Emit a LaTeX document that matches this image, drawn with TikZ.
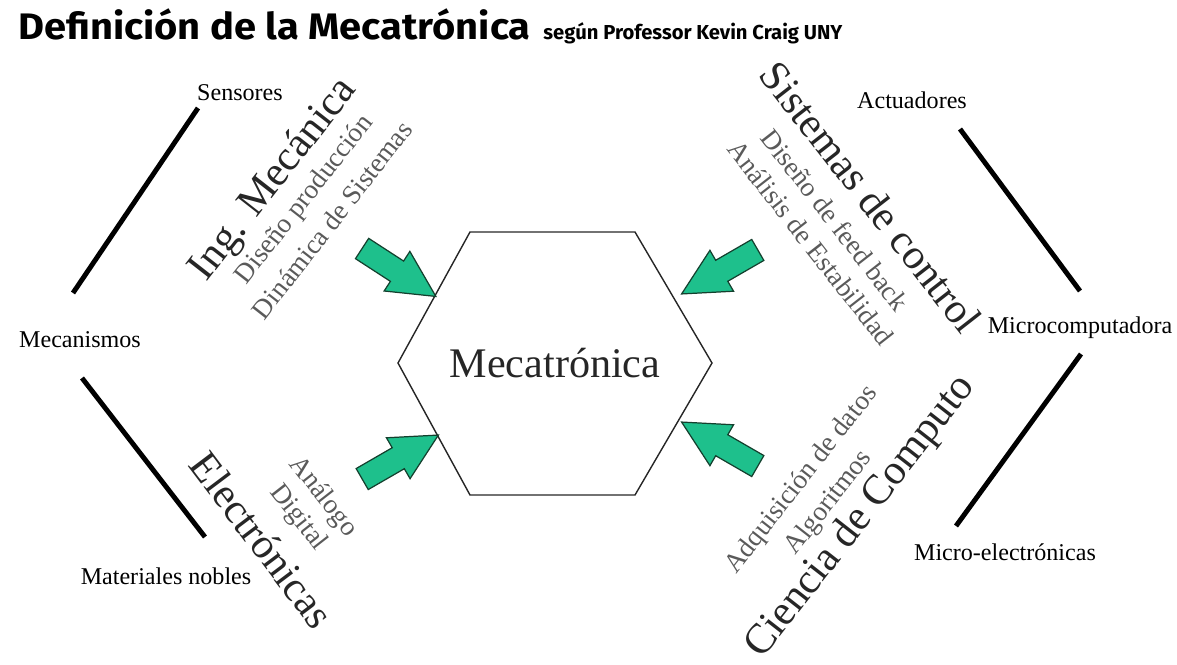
\documentclass[tikz,border=0pt]{standalone}
\usepackage{fontspec}
\setmainfont{Liberation Serif}
\newfontfamily\titulofont[FakeStretch=1.08]{Fira Sans}
\newfontfamily\subtitulofont{Fira Sans}
\usetikzlibrary{shapes.arrows}
\definecolor{verde}{RGB}{30,192,140}
\definecolor{verdeborde}{RGB}{20,64,46}
\definecolor{grisoscuro}{RGB}{38,38,38}
\definecolor{gristema}{RGB}{90,90,90}
\begin{document}
\begin{tikzpicture}[x=0.02cm, y=0.02cm,
    etiqueta/.style={font=\fontsize{13.7}{16}\selectfont, inner sep=0pt},
    area/.style={font=\fontsize{24}{28}\selectfont, text=grisoscuro, inner sep=0pt},
    tema/.style={font=\fontsize{15.5}{18}\selectfont, text=gristema, inner sep=0pt},
    borde/.style={line width=2.8pt},
    flecha/.style={single arrow, draw=verdeborde, fill=verde, line width=0.7pt,
        inner sep=0pt, inner ysep=0.23cm, minimum height=1.76cm,
        single arrow head extend=0.23cm, single arrow tip angle=54}]

    \useasboundingbox (0,0) rectangle (1177,664);

    % titulo
    \node[anchor=base west, inner sep=0pt, font=\titulofont\bfseries\fontsize{21}{24}\selectfont] (titulo) at (18,624) {Definición de la Mecatrónica};
    \node[anchor=base west, inner sep=0pt, font=\subtitulofont\bfseries\fontsize{11.5}{13}\selectfont] (subtitulo) at ([xshift=0.24cm]titulo.base east) {según Professor Kevin Craig UNY};

    % hexagono central
    \node[font=\fontsize{24}{28}\selectfont, text=grisoscuro] (hexa) at (555,301) {Mecatrónica};
    \draw[grisoscuro, line width=0.8pt] (398,301) -- (470,432) -- (635,432) -- (712,301) -- (635,169) -- (470,169) -- cycle;

    % etiquetas exteriores
    \node[etiqueta] (sens) at (240,571) {Sensores};
    \node[etiqueta] (meca) at (80,324) {Mecanismos};
    \node[etiqueta] (mat) at (166,88) {Materiales nobles};
    \node[etiqueta] (act) at (912,564) {Actuadores};
    \node[etiqueta] (micro) at (1080,336) {Microcomputadora};
    \node[etiqueta] (microel) at (1005,112) {Micro-electrónicas};

    \coordinate (l1a) at (198,556);
    \coordinate (l1b) at (73,371);
    \coordinate (l2a) at (82,286);
    \coordinate (l2b) at (205,127);
    \coordinate (r1a) at (960,535);
    \coordinate (r1b) at (1080,373);
    \coordinate (r2a) at (1081,310);
    \coordinate (r2b) at (956,138);

    \draw[borde] (l1a) -- (l1b);
    \draw[borde] (l2a) -- (l2b);
    \draw[borde] (r1a) -- (r1b);
    \draw[borde] (r2a) -- (r2b);

    % areas
    \node[area, rotate=52] (ing) at (274,484) {Ing. Mecánica};
    \node[tema, rotate=52] (disprod) at (305,464) {Diseño producción};
    \node[tema, rotate=52] (dinsis) at (332,444) {Dinámica de Sistemas};

    \node[area, rotate=-52] (sist) at (871,467) {Sistemas de control};
    \node[tema, rotate=-52] (disfeed) at (835,444) {Diseño de feed back};
    \node[tema, rotate=-52] (anal) at (811,421) {Análisis de Estabilidad};

    \node[area, rotate=-53] (elec) at (262,124) {Electrónicas};
    \node[tema, rotate=-52] (digital) at (298,146) {Digital};
    \node[tema, rotate=-52] (analogo) at (323,167) {Análogo};

    \node[area, rotate=52] (cien) at (861,147) {Ciencia de Computo};
    \node[tema, rotate=52] (algo) at (829,161) {Algoritmos};
    \node[tema, rotate=52] (adq) at (802,184) {Adquisición de datos};

    % flechas hacia el hexagono
    \node[flecha, rotate=-33] (fing) at (389,398) {};
    \node[flecha, rotate=210] (fsist) at (730,398) {};
    \node[flecha, rotate=30] (felec) at (390,201) {};
    \node[flecha, rotate=150] (fcien) at (730,214) {};

\end{tikzpicture}
\end{document}
